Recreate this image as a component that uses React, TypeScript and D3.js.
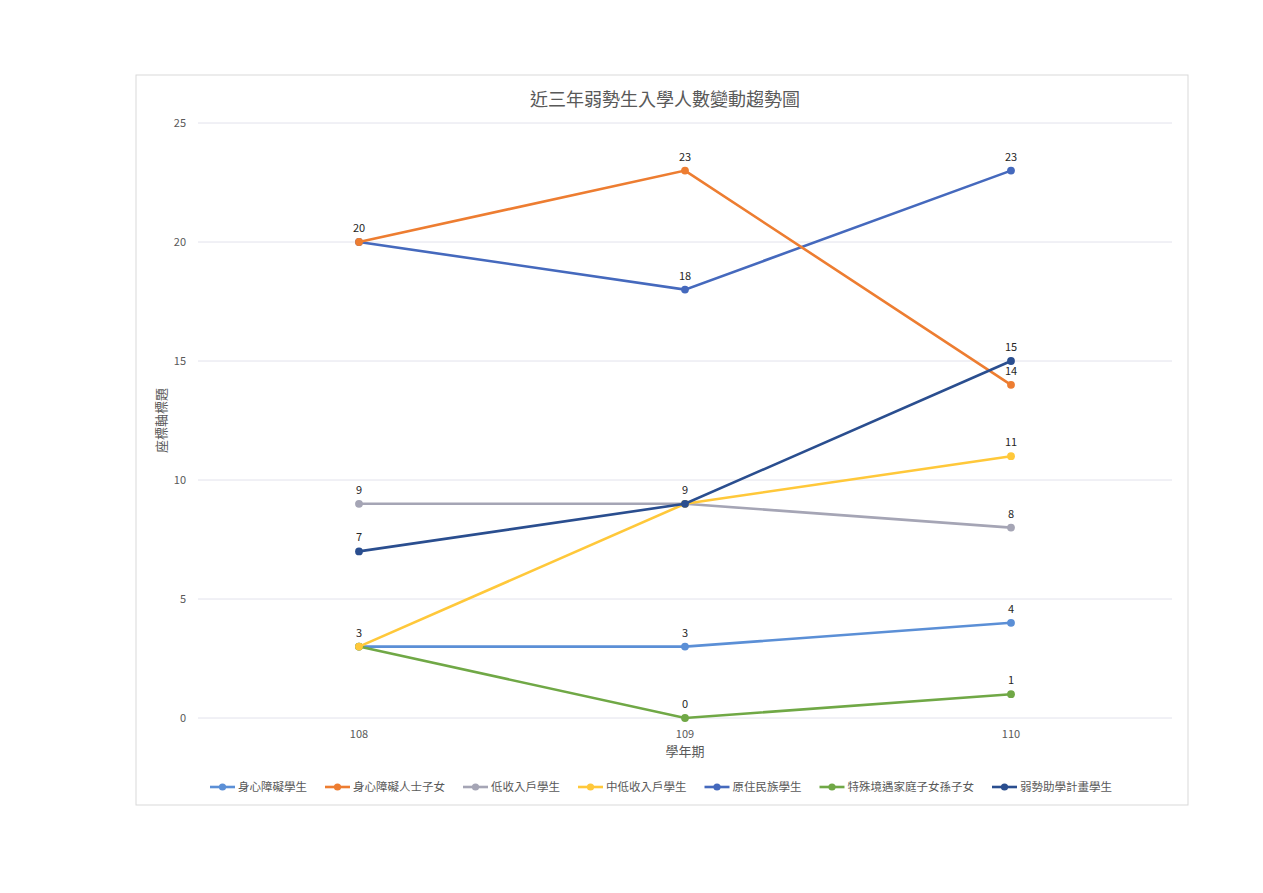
import * as d3 from "d3";

const categories = ["108", "109", "110"];
const seriesNames = [
  "身心障礙學生",
  "身心障礙人士子女",
  "低收入戶學生",
  "中低收入戶學生",
  "原住民族學生",
  "特殊境遇家庭子女孫子女",
  "弱勢助學計畫學生",
];
const seriesValues = [
  [3, 3, 4],
  [20, 23, 14],
  [9, 9, 8],
  [3, 9, 11],
  [20, 18, 23],
  [3, 0, 1],
  [7, 9, 15],
];
const seriesColors = ["#5b8fd6", "#ed7d31", "#a5a5b5", "#ffc83a", "#4569bd", "#70a846", "#2a4e8f"];
const yTicks = [0, 5, 10, 15, 20, 25];

// which series prints its label at each category (avoid duplicates on shared points)
const labelShown = [
  [true, true, true],
  [true, true, true],
  [true, false, true],
  [false, false, true],
  [false, true, true],
  [false, true, true],
  [true, true, true],
];

const W = 1263;
const H = 893;
const font = "'Noto Sans CJK TC', 'Noto Sans', sans-serif";

export default function App() {
  const x = d3.scalePoint<string>().domain(categories).range([359, 1011]).padding(0);
  const y = d3.scaleLinear().domain([0, 25]).range([718, 123]);
  const line = d3
    .line<number>()
    .x((_, i) => x(categories[i]) as number)
    .y((d) => y(d));

  const legendFont = 11.5;
  let cursor = 210;
  const legendItems = seriesNames.map((name, i) => {
    const start = cursor;
    cursor += 28 + name.length * legendFont + 18;
    return { name, i, start };
  });

  // draw order: later series on top
  const order = [0, 5, 2, 3, 4, 1, 6];

  return (
    <div style={{ position: "fixed", left: 0, top: 0 }}>
      <svg width={W} height={H} style={{ display: "block", background: "#ffffff" }} fontFamily={font}>
        <rect x={136} y={75} width={1052} height={730} fill="#fff" stroke="#d9d9d9" strokeWidth={1} />
        <text x={665} y={106} textAnchor="middle" fontSize={18} fill="#595959">
          近三年弱勢生入學人數變動趨勢圖
        </text>
        {yTicks.map((t) => (
          <g key={t}>
            <line x1={198} x2={1172} y1={y(t)} y2={y(t)} stroke="#e2e2ec" strokeWidth={1} />
            <text x={186} y={y(t) + 4} textAnchor="end" fontSize={11} fill="#595959">
              {t}
            </text>
          </g>
        ))}
        {categories.map((c) => (
          <text key={c} x={x(c)} y={738} textAnchor="middle" fontSize={11} fill="#595959">
            {c}
          </text>
        ))}
        <text x={685} y={756} textAnchor="middle" fontSize={13} fill="#595959">
          學年期
        </text>
        <text
          transform={`translate(166,${y(12.5)}) rotate(-90)`}
          textAnchor="middle"
          fontSize={13}
          fill="#595959"
        >
          座標軸標題
        </text>
        {order.map((i) => (
          <g key={seriesNames[i]}>
            <path d={line(seriesValues[i]) ?? ""} fill="none" stroke={seriesColors[i]} strokeWidth={2.6} />
            {seriesValues[i].map((v, j) => (
              <circle key={j} cx={x(categories[j])} cy={y(v)} r={3.9} fill={seriesColors[i]} />
            ))}
          </g>
        ))}
        {seriesValues.map((vals, i) =>
          vals.map((v, j) =>
            labelShown[i][j] ? (
              <text
                key={`${i}-${j}`}
                x={x(categories[j])}
                y={y(v) - 10}
                textAnchor="middle"
                fontSize={11}
                fill="#262626"
              >
                {v}
              </text>
            ) : null
          )
        )}
        {legendItems.map(({ name, i, start }) => (
          <g key={name}>
            <line x1={start} x2={start + 25} y1={787} y2={787} stroke={seriesColors[i]} strokeWidth={2.6} />
            <circle cx={start + 12.5} cy={787} r={3.6} fill={seriesColors[i]} />
            <text x={start + 28} y={791} fontSize={legendFont} fill="#595959">
              {name}
            </text>
          </g>
        ))}
      </svg>
    </div>
  );
}
